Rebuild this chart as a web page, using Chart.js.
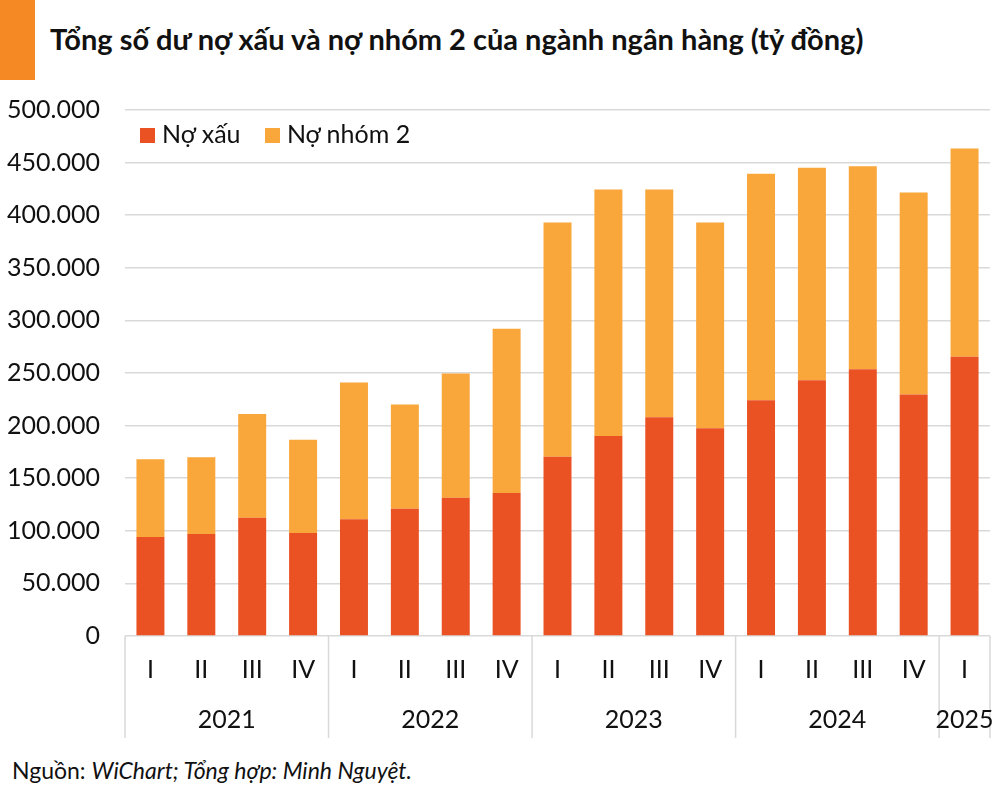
<!DOCTYPE html>
<html>
<head>
<meta charset="utf-8">
<script src="https://cdn.jsdelivr.net/npm/chart.js@4"></script>
<style>
    body { margin: 0; background: #fff; font-family: Lato, sans-serif; }
    #page { position: relative; width: 1000px; height: 796px; overflow: hidden; }
    #bar { position: absolute; left: 0; top: 0; width: 35px; height: 80px; background: #F58A24; }
    #title { position: absolute; left: 50px; top: 21px; font-size: 29px; font-weight: bold; color: #111; white-space: nowrap; }
    #wrap { position: absolute; left: 0; top: 70px; width: 1000px; height: 680px; }
    #legend { position: absolute; left: 140px; top: 118px; font-size: 25px; color: #111; white-space: nowrap; }
    #legend span.box { display: inline-block; width: 15px; height: 15px; margin-right: 7px; vertical-align: 0px; }
    #source { position: absolute; left: 12px; top: 756px; font-size: 23px; color: #111; white-space: nowrap; }
</style>
</head>
<body>
<div id="page">
    <div id="bar"></div>
    <div id="title">Tổng số dư nợ xấu và nợ nhóm 2 của ngành ngân hàng (tỷ đồng)</div>
    <div id="wrap"><canvas id="chart"></canvas></div>
    <div id="legend">
        <span class="box" style="background:#EA5123"></span>Nợ xấu
        <span class="box" style="background:#F9A63A; margin-left:18px"></span>Nợ nhóm 2
    </div>
    <div id="source">Nguồn: <i>WiChart; Tổng hợp: Minh Nguyệt.</i></div>
</div>
<script>
// quarters and the year each one belongs to
const quarters = ['I', 'II', 'III', 'IV', 'I', 'II', 'III', 'IV', 'I', 'II', 'III', 'IV', 'I', 'II', 'III', 'IV', 'I'];
const years = ['2021', '2022', '2023', '2024', '2025'];
const quartersPerYear = [4, 4, 4, 4, 1];

// values in ty dong
const noXau = [94000, 97000, 112500, 98000, 111000, 121000, 131500, 136000, 170500, 190000, 208000, 197500, 224000, 243000, 253500, 229500, 265500];
const noNhom2 = [74000, 73000, 98500, 88500, 130000, 99000, 118000, 156000, 222500, 234500, 216500, 195500, 215500, 202000, 193000, 192000, 198000];

const yTicks = [0, 50000, 100000, 150000, 200000, 250000, 300000, 350000, 400000, 450000, 500000];

function fmt(v) {
    return String(v).replace(/\B(?=(\d{3})+(?!\d))/g, '.');
}

// draws the year row and the group separators under the quarter labels
const yearAxis = {
    id: 'yearAxis',
    afterDraw(chart) {
        const ctx = chart.ctx;
        const x = chart.scales.x;
        const top = x.top;
        const bottom = x.bottom;
        ctx.save();
        let start = 0;
        const edges = [x.left];
        const centers = [];
        years.forEach((yr, i) => {
            const end = start + quartersPerYear[i] - 1;
            const right = end < quarters.length - 1
                ? (x.getPixelForValue(end) + x.getPixelForValue(end + 1)) / 2
                : x.right;
            edges.push(right);
            centers.push((edges[i] + right) / 2);
            start = end + 1;
        });
        // separators first, then the labels on top
        ctx.strokeStyle = '#d9d9d9';
        ctx.lineWidth = 1.5;
        edges.forEach(px => {
            ctx.beginPath();
            ctx.moveTo(px, top);
            ctx.lineTo(px, bottom);
            ctx.stroke();
        });
        ctx.fillStyle = '#111';
        ctx.font = '25px Lato';
        ctx.textAlign = 'center';
        ctx.textBaseline = 'middle';
        years.forEach((yr, i) => ctx.fillText(yr, centers[i], top + 84));
        ctx.restore();
    }
};

new Chart(document.getElementById('chart'), {
    type: 'bar',
    data: {
        labels: quarters,
        datasets: [
            { label: 'Nợ xấu', data: noXau, backgroundColor: '#EA5123', categoryPercentage: 1, barPercentage: 0.55 },
            { label: 'Nợ nhóm 2', data: noNhom2, backgroundColor: '#F9A63A', categoryPercentage: 1, barPercentage: 0.55 }
        ]
    },
    options: {
        responsive: true,
        maintainAspectRatio: false,
        animation: false,
        layout: { padding: { top: 2, right: 10, bottom: 12, left: 0 } },
        plugins: { legend: { display: false }, tooltip: { enabled: false } },
        scales: {
            x: {
                stacked: true,
                grid: { display: false, drawTicks: false },
                border: { display: false },
                ticks: { color: '#111', font: { family: 'Lato', size: 25 }, padding: 19, maxRotation: 0, autoSkip: false },
                afterFit: s => { s.height = 102; }
            },
            y: {
                stacked: true,
                min: 0,
                max: 500000,
                afterBuildTicks: s => { s.ticks = yTicks.map(v => ({ value: v })); },
                grid: { color: '#d9d9d9', lineWidth: 1.5, drawTicks: false },
                border: { display: false },
                ticks: { color: '#111', font: { family: 'Lato', size: 25 }, padding: 25, callback: v => fmt(v) },
                afterFit: s => { s.width = 125; }
            }
        }
    },
    plugins: [yearAxis]
});
</script>
</body>
</html>
